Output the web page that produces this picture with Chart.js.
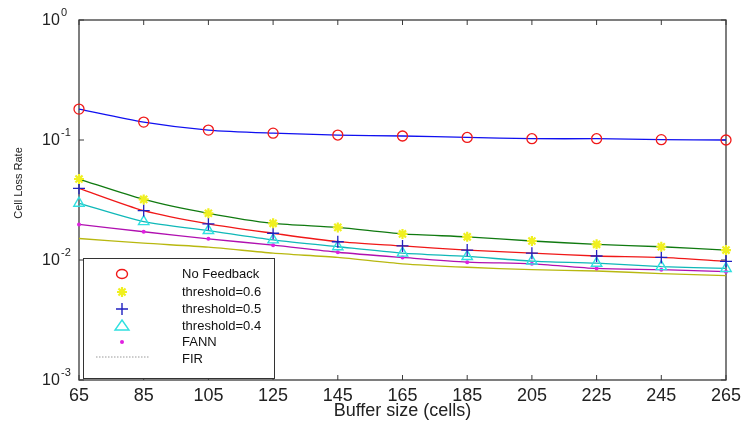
<!DOCTYPE html>
<html><head><meta charset="utf-8">
<script src="https://cdn.jsdelivr.net/npm/chart.js@4/dist/chart.umd.min.js"></script>
<style>html,body{margin:0;padding:0;background:#fff}#wrap{width:745px;height:424px}</style>
</head><body><div id="wrap"><canvas id="c" width="745" height="424"></canvas></div>
<script>
const bufferSizes = ['65','85','105','125','145','165','185','205','225','245','265'];
const noFeedback  = [0.181,0.141,0.121,0.114,0.110,0.108,0.105,0.1025,0.1025,0.1006,0.100];
const threshold06 = [0.0473,0.0320,0.0245,0.0202,0.0187,0.0165,0.0156,0.0144,0.0135,0.0129,0.0121];
const threshold05 = [0.0396,0.0258,0.0200,0.0167,0.0142,0.0131,0.0121,0.0114,0.0108,0.0105,0.00975];
const threshold04 = [0.0297,0.0209,0.0176,0.0147,0.0129,0.0114,0.0107,0.0098,0.0094,0.0088,0.0085];
const fann        = [0.0198,0.0172,0.0150,0.0133,0.0116,0.0105,0.0096,0.0093,0.0085,0.0083,0.0080];
const fir         = [0.0151,0.0138,0.0128,0.0114,0.0105,0.0093,0.0087,0.0083,0.0081,0.0077,0.0074];
const yTickValues = [1,0.1,0.01,0.001];
const yTickExponents = ['0','-1','-2','-3'];
const seriesNames = ['No Feedback','threshold=0.6','threshold=0.5','threshold=0.4','FANN','FIR'];
const yTitle = 'Cell Loss Rate';
const xTitle = 'Buffer size (cells)';

const FONT = '"Liberation Sans", Arial, Helvetica, sans-serif';

function ds(label, data, line, marker, style, radius, fill, bw) {
  return {
    label, data,
    borderColor: line, borderWidth: 1.3,
    pointStyle: style, pointRadius: radius,
    pointBorderColor: marker, pointBackgroundColor: fill,
    pointBorderWidth: bw, tension: 0.25, clip: false
  };
}

const datasets = [
  ds(seriesNames[0], noFeedback, '#1010f0', '#f01818', 'circle', 5, 'rgba(0,0,0,0)', 1.3),
  ds(seriesNames[1], threshold06, '#107a10', '#f0f020', 'star', 5, '#f0f020', 2.2),
  ds(seriesNames[2], threshold05, '#f01818', '#2020c0', 'cross', 6, 'rgba(0,0,0,0)', 1.3),
  ds(seriesNames[3], threshold04, '#10b8b8', '#30e0e0', 'triangle', 6, 'rgba(0,0,0,0)', 1.4),
  ds(seriesNames[4], fann, '#b010b0', '#e020e0', 'circle', 2, '#e020e0', 0),
  ds(seriesNames[5], fir, '#b8b810', '#b8b810', 'circle', 0, '#b8b810', 0)
];

const framePlugin = {
  id: 'frame',
  beforeDatasetsDraw(chart) {
    const {ctx, chartArea: a, scales} = chart;
    ctx.save();
    ctx.strokeStyle = '#3a3a3a';
    ctx.lineWidth = 1.3;
    ctx.strokeRect(a.left, a.top, a.right - a.left, a.bottom - a.top);
    ctx.lineWidth = 1;
    ctx.beginPath();
    scales.x.ticks.forEach((t, i) => {
      const x = scales.x.getPixelForTick(i);
      ctx.moveTo(x, a.bottom); ctx.lineTo(x, a.bottom - 5);
      ctx.moveTo(x, a.top); ctx.lineTo(x, a.top + 5);
    });
    yTickValues.forEach(v => {
      const y = scales.y.getPixelForValue(v);
      ctx.moveTo(a.left, y); ctx.lineTo(a.left + 5, y);
      ctx.moveTo(a.right, y); ctx.lineTo(a.right - 5, y);
    });
    ctx.stroke();
    // y tick labels 10^n
    ctx.fillStyle = '#222';
    yTickValues.forEach((v, i) => {
      const y = scales.y.getPixelForValue(v);
      ctx.textAlign = 'left';
      ctx.textBaseline = 'middle';
      ctx.font = '16px ' + FONT;
      ctx.fillText('10', 42, y + 1);
      ctx.font = '11px ' + FONT;
      ctx.fillText(yTickExponents[i], 61, y - 7);
    });
    // y title
    ctx.save();
    ctx.translate(19, 183);
    ctx.rotate(-Math.PI / 2);
    ctx.textAlign = 'center';
    ctx.textBaseline = 'middle';
    ctx.font = '11px ' + FONT;
    ctx.fillText(yTitle, 0, 0);
    ctx.restore();
    ctx.restore();
  }
};

const legendPlugin = {
  id: 'boxLegend',
  afterDatasetsDraw(chart) {
    const ctx = chart.ctx;
    const bx = 83, by = 258, bw = 191, bh = 120;
    ctx.save();
    ctx.fillStyle = '#fff';
    ctx.fillRect(bx, by, bw, bh);
    ctx.strokeStyle = '#333';
    ctx.lineWidth = 1;
    ctx.strokeRect(bx + 0.5, by + 0.5, bw, bh);
    const rows = [274, 292, 309, 326, 342, 359];
    const mx = 122;
    ctx.font = '13px ' + FONT;
    ctx.fillStyle = '#111';
    ctx.textBaseline = 'middle';
    rows.forEach((y, i) => ctx.fillText(seriesNames[i], 182, y));
    ctx.lineWidth = 1.4;
    ctx.strokeStyle = '#f01818';
    ctx.beginPath(); ctx.ellipse(mx, rows[0], 5.5, 4.5, 0, 0, Math.PI * 2); ctx.stroke();
    ctx.strokeStyle = '#f0f020'; ctx.lineWidth = 2.2;
    ctx.beginPath();
    for (let k = 0; k < 4; k++) {
      const ang = k * Math.PI / 4;
      ctx.moveTo(mx - 5 * Math.cos(ang), rows[1] - 5 * Math.sin(ang));
      ctx.lineTo(mx + 5 * Math.cos(ang), rows[1] + 5 * Math.sin(ang));
    }
    ctx.stroke();
    ctx.strokeStyle = '#2020c0'; ctx.lineWidth = 1.4;
    ctx.beginPath();
    ctx.moveTo(mx - 6, rows[2]); ctx.lineTo(mx + 6, rows[2]);
    ctx.moveTo(mx, rows[2] - 6); ctx.lineTo(mx, rows[2] + 6);
    ctx.stroke();
    ctx.strokeStyle = '#30e0e0';
    ctx.beginPath();
    ctx.moveTo(mx, rows[3] - 6); ctx.lineTo(mx + 7, rows[3] + 4); ctx.lineTo(mx - 7, rows[3] + 4); ctx.closePath();
    ctx.stroke();
    ctx.fillStyle = '#e020e0';
    ctx.beginPath(); ctx.arc(mx, rows[4], 2, 0, Math.PI * 2); ctx.fill();
    ctx.strokeStyle = '#999';
    ctx.lineWidth = 1;
    ctx.setLineDash([1.5, 1.5]);
    ctx.beginPath(); ctx.moveTo(96, rows[5] - 2); ctx.lineTo(149, rows[5] - 2); ctx.stroke();
    ctx.setLineDash([]);
    ctx.restore();
  }
};

new Chart(document.getElementById('c'), {
  type: 'line',
  data: { labels: bufferSizes, datasets },
  options: {
    responsive: false, animation: false, devicePixelRatio: 1,
    layout: { padding: { top: 20, right: 19, left: 0, bottom: 0 } },
    plugins: { legend: { display: false }, tooltip: { enabled: false } },
    scales: {
      x: {
        type: 'category', offset: false,
        grid: { display: false }, border: { display: false },
        ticks: { font: { size: 18, family: FONT }, color: '#222', maxRotation: 0, autoSkip: false, padding: -3 },
        title: { display: true, text: xTitle, font: { size: 18, family: FONT }, color: '#222', padding: { top: 0, bottom: 2 } },
        afterFit(s) { s.height = 44; }
      },
      y: {
        type: 'logarithmic', min: 0.001, max: 1,
        grid: { display: false }, border: { display: false },
        afterBuildTicks(s) { s.ticks = yTickValues.map(v => ({ value: v })); },
        ticks: { display: false },
        afterFit(s) { s.width = 79; }
      }
    }
  },
  plugins: [framePlugin, legendPlugin]
});
</script></body></html>
